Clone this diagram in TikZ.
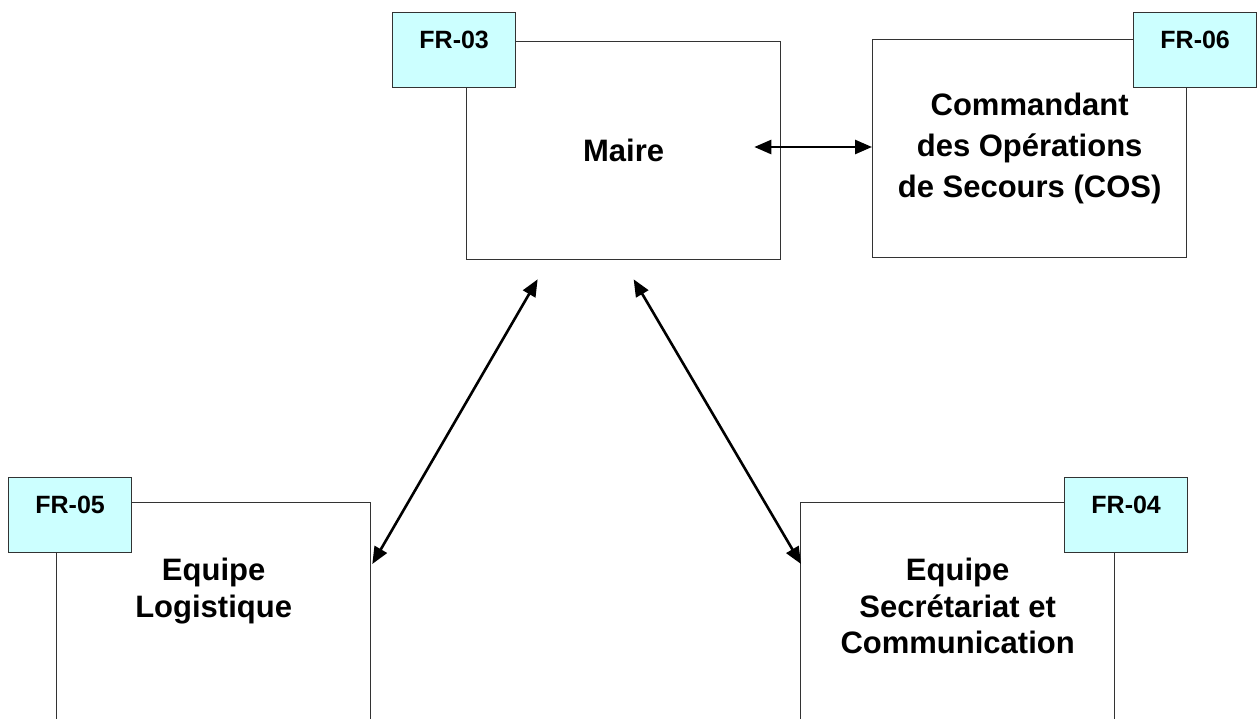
\documentclass[tikz,border=0pt]{standalone}
\usepackage{fontspec}
\setmainfont{Liberation Sans}
\usetikzlibrary{arrows.meta,calc}
\definecolor{linegray}{HTML}{333333}
\definecolor{tagcyan}{HTML}{CCFFFF}
\newcommand{\mainfnt}{\bfseries\fontsize{31}{41}\selectfont}
\newcommand{\lowfnt}{\bfseries\fontsize{31}{36.5}\selectfont}
\newcommand{\tagfnt}{\bfseries\fontsize{25}{30}\selectfont}
\begin{document}
\begin{tikzpicture}[x=1pt,y=-1pt,
  box/.style={draw=linegray, line width=1.3pt, rectangle, inner sep=0pt,
    minimum width=314pt, anchor=north west, font=\mainfnt, align=center},
  tagbox/.style={draw=linegray, fill=tagcyan, line width=1.3pt, rectangle, inner sep=0pt,
    minimum width=123pt, minimum height=75pt, anchor=north west},
  tagtext/.style={anchor=center, yshift=-28pt, font=\tagfnt, inner sep=0pt},
  boxtext/.style={anchor=center, font=\lowfnt, align=center, inner sep=0pt},
  conn/.style={draw=black, line width=2.6pt, {Triangle[length=17pt,width=14pt]}-{Triangle[length=17pt,width=14pt]}}
]
\path[clip] (0,0) rectangle (1257,718);
\fill[white] (0,0) rectangle (1257,718);

% main boxes
\node[box, minimum height=218pt] (maire) at (466,41) {Maire};
\node[box, minimum height=218pt] (cos) at (872,39) {Commandant\\des Opérations\\de Secours (COS)};
\node[box, minimum height=260pt,
  label={[boxtext, yshift=-89pt]north:Equipe\\Logistique}] (logi) at (56,502) {};
\node[box, minimum height=260pt,
  label={[boxtext, yshift=-104pt]north:Equipe\\Secrétariat et\\Communication}] (secr) at (800,502) {};

% tags
\node[tagbox, label={[tagtext]north:FR-03}] (t3) at (392,12) {};
\node[tagbox, label={[tagtext]north:FR-06}] (t6) at (1133,12) {};
\node[tagbox, label={[tagtext]north:FR-05}] (t5) at (8,477) {};
\node[tagbox, label={[tagtext]north:FR-04}] (t4) at (1064,477) {};

% connector ends
\coordinate (mr) at ($(maire.north east)+(-27,106)$);
\coordinate (ml) at ($(maire.south)+(-86,19)$);
\coordinate (mm) at ($(maire.south)+(10,19)$);
\coordinate (le) at ($(logi.north east)+(1,62)$);
\coordinate (se) at ($(secr.north west)+(1,62)$);

\draw[conn] (mr) -- (cos.west |- mr);
\draw[conn] (ml) -- (le);
\draw[conn] (mm) -- (se);
\end{tikzpicture}
\end{document}
